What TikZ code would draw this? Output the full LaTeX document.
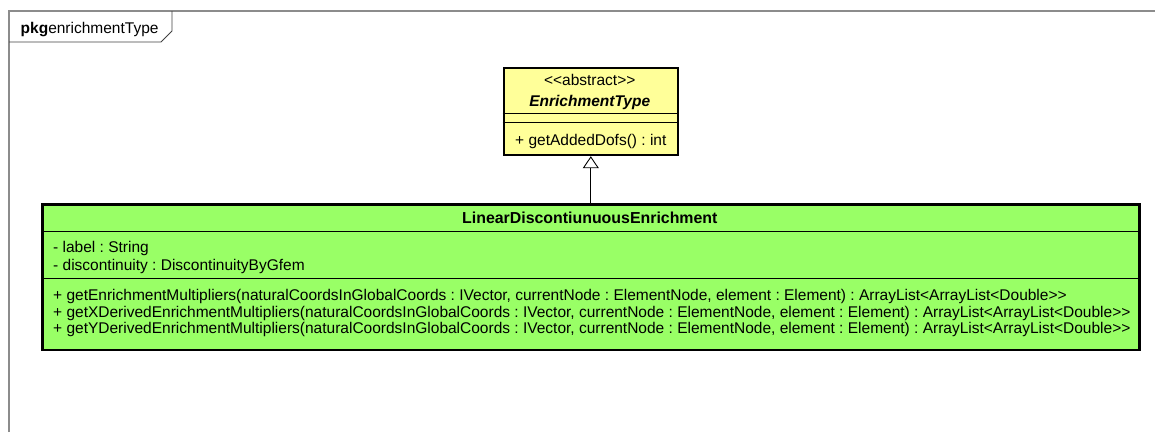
\documentclass[tikz,border=0pt]{standalone}
\usepackage{fontspec}
\setmainfont{Liberation Sans}
\usetikzlibrary{arrows.meta}
\frenchspacing
\definecolor{abstractfill}{RGB}{255,255,153}
\definecolor{classfill}{RGB}{153,255,102}
\definecolor{framegray}{RGB}{140,140,140}
\tikzset{
  uml/.style={draw=black, line width=2.2pt, inner sep=0pt, anchor=north west},
  sep/.style={draw=black, line width=0.9pt},
  txt/.style={inner sep=0pt, font=\fontsize{15.5pt}{18pt}\selectfont},
  member/.style={txt, anchor=base west},
  title/.style={txt, anchor=base},
  generalization/.style={draw=black, line width=0.9pt, -{Triangle[open, length=12pt, width=16pt, line width=0.9pt]}}
}
\begin{document}
\begin{tikzpicture}[x=1pt, y=-1pt]
\useasboundingbox (0,0) rectangle (1155,432);

% package frame and tab
\draw[framegray, line width=1.2pt] (9,432) -- (9,11) -- (1155,11);
\draw[black!75, line width=0.9pt] (172,11) -- (172,31) -- (161,42) -- (9,42);
\node[member] (pkg) at (20.5,33.3) {\textbf{pkg}enrichmentType};

% abstract class
\node[uml, fill=abstractfill, minimum width=174pt, minimum height=87.3pt] (base) at (502.7,66.7) {};
\draw[sep] (502.7,113.5) -- (676.7,113.5);
\draw[sep] (502.7,122.7) -- (676.7,122.7);
\node[title] (baseStereo) at (589.7,85.5) {<{}<abstract>{}>};
\node[title] (baseName) at (589.7,106.5) {\textbf{\textit{EnrichmentType}}};
\node[member] (baseOp) at (515,145.5) {+ getAddedDofs() : int};

% concrete class
\node[uml, fill=classfill, minimum width=1097pt, minimum height=145.5pt] (lin) at (41.3,203.3) {};
\draw[sep] (41.3,231.8) -- (1138.3,231.8);
\draw[sep] (41.3,278.3) -- (1138.3,278.3);
\node[title, font=\fontsize{15.9pt}{18pt}\selectfont] (linName) at (589.8,223.3) {\textbf{LinearDiscontiunuousEnrichment}};
\node[member] (attr1) at (53,252) {- label : String};
\node[member] (attr2) at (53,270.3) {- discontinuity : DiscontinuityByGfem};
\node[member] (op1) at (53,300.4) {+ getEnrichmentMultipliers(naturalCoordsInGlobalCoords : IVector, currentNode : ElementNode, element : Element) : ArrayList<{}ArrayList<{}Double>{}>};
\node[member] (op2) at (53,317) {+ getXDerivedEnrichmentMultipliers(naturalCoordsInGlobalCoords : IVector, currentNode : ElementNode, element : Element) : ArrayList<{}ArrayList<{}Double>{}>};
\node[member] (op3) at (53,333.6) {+ getYDerivedEnrichmentMultipliers(naturalCoordsInGlobalCoords : IVector, currentNode : ElementNode, element : Element) : ArrayList<{}ArrayList<{}Double>{}>};

% generalization
\draw[generalization] (lin.north -| base.south) -- (base.south);
\end{tikzpicture}
\end{document}
